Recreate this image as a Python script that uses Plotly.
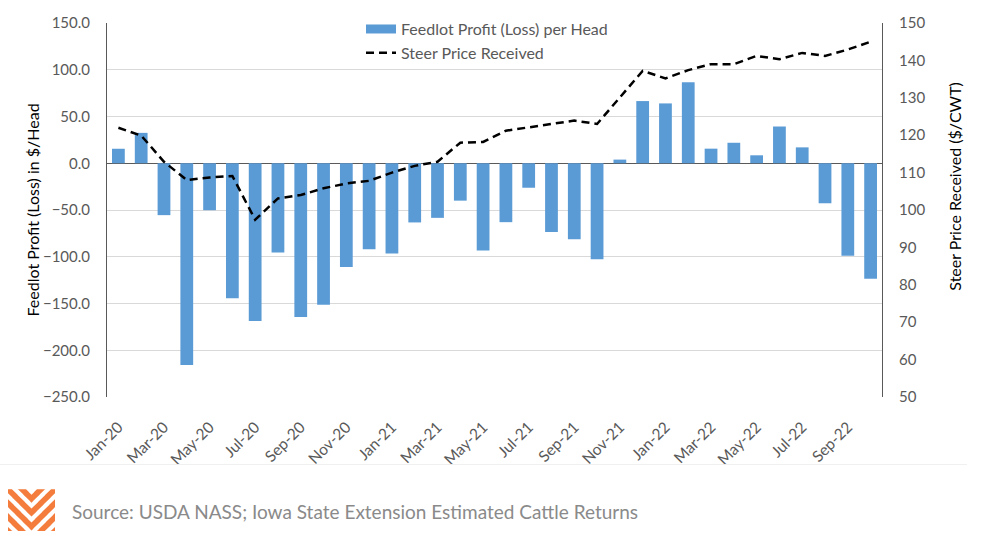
import plotly.graph_objects as go

months = ["Jan-20", "Feb-20", "Mar-20", "Apr-20", "May-20", "Jun-20", "Jul-20", "Aug-20",
          "Sep-20", "Oct-20", "Nov-20", "Dec-20", "Jan-21", "Feb-21", "Mar-21", "Apr-21",
          "May-21", "Jun-21", "Jul-21", "Aug-21", "Sep-21", "Oct-21", "Nov-21", "Dec-21",
          "Jan-22", "Feb-22", "Mar-22", "Apr-22", "May-22", "Jun-22", "Jul-22", "Aug-22",
          "Sep-22", "Oct-22"]

profit_per_head = [15.5, 32.5, -55.5, -215.7, -50.2, -144.3, -168.7, -95.5,
                   -164.5, -151.4, -111.0, -92.0, -96.5, -63.3, -58.4, -40.0,
                   -93.4, -63.0, -26.2, -73.6, -81.3, -102.6, 3.9, 66.5,
                   64.0, 86.6, 15.6, 21.9, 8.5, 39.3, 17.0, -42.8,
                   -99.0, -123.4]

steer_price = [122.0, 119.9, 112.9, 108.0, 108.7, 109.1, 97.4, 103.1,
               104.0, 105.8, 107.1, 107.8, 110.0, 111.8, 112.9, 118.0,
               118.2, 121.2, 122.1, 123.0, 123.9, 123.0, 130.0, 137.2,
               135.2, 137.4, 139.0, 139.0, 141.2, 140.3, 142.0, 141.2,
               142.9, 145.0]

tick_labels = months[::2]

BAR_NAME = "Feedlot Profit (Loss) per Head"
LINE_NAME = "Steer Price Received"

FONT = "Lato"
GRAY = "#595959"
BAR_COLOR = "#5B9BD5"

fig = go.Figure()
fig.add_trace(go.Bar(
    x=months, y=profit_per_head, name=BAR_NAME, showlegend=False,
    marker=dict(color=BAR_COLOR, line=dict(width=0)),
))
# legend entry for the bars drawn as a wide swatch
fig.add_trace(go.Scatter(
    x=[None], y=[None], name=BAR_NAME, mode="lines",
    line=dict(color=BAR_COLOR, width=9), hoverinfo="skip",
))
fig.add_trace(go.Scatter(
    x=months, y=steer_price, name=LINE_NAME, yaxis="y2",
    mode="lines", line=dict(color="black", width=2.5, dash="8px,5px"),
))

L, R, T, B = 107, 102, 20, 140
W, H = 984, 537
pw, ph = W - L - R, H - T - B

def px(xp):
    return (xp - L) / pw

def py(yp):
    return (H - B - yp) / ph

shapes = []
# footer separator
shapes.append(dict(type="line", xref="paper", yref="paper",
                   x0=px(0), x1=px(967), y0=py(465), y1=py(465),
                   line=dict(color="#F0F0F0", width=1)))

# logo: striped chevron
bx0, bx1, by0, by1 = 8, 55, 490, 532
cx = (bx0 + bx1) / 2
period, thick = 14, 8
for k in range(-2, 5):
    a = by0 - 4 + period * k
    xs = [bx0 + (bx1 - bx0) * i / 60 for i in range(61)]
    top, bot = [], []
    for xv in xs:
        f = (cx - bx0) - abs(xv - cx)
        yt = a + f
        yb = a + thick + f
        top.append((xv, min(max(yt, by0), by1)))
        bot.append((xv, min(max(yb, by0), by1)))
    pts = top + bot[::-1]
    path = "M " + " L ".join(f"{px(p[0]):.5f},{py(p[1]):.5f}" for p in pts) + " Z"
    shapes.append(dict(type="path", xref="paper", yref="paper", path=path,
                       fillcolor="#F47C3C", line=dict(width=0)))

fig.update_layout(
    width=W, height=H,
    margin=dict(l=L, r=R, t=T, b=B),
    paper_bgcolor="white", plot_bgcolor="white",
    font=dict(family=FONT, size=14, color=GRAY),
    bargap=0.44,
    showlegend=True,
    legend=dict(x=px(361), y=py(9), xanchor="left", yanchor="top",
                bgcolor="rgba(0,0,0,0)", font=dict(size=16, color=GRAY),
                tracegroupgap=0, itemwidth=30),
    xaxis=dict(type="category", tickvals=tick_labels, ticktext=tick_labels,
               tickangle=-45, showgrid=False, zeroline=False, showline=False,
               ticks="outside", ticklen=14, tickcolor="rgba(0,0,0,0)",
               tickfont=dict(size=15.5, color=GRAY), range=[-0.5, len(months) - 0.5]),
    yaxis=dict(range=[-250, 150], dtick=50, tickformat=".1f",
               showgrid=True, gridcolor="#D9D9D9", gridwidth=1,
               zeroline=True, zerolinecolor=GRAY, zerolinewidth=1,
               showline=True, linecolor=GRAY, linewidth=1,
               ticks="outside", ticklen=13, tickcolor="rgba(0,0,0,0)",
               tickfont=dict(size=15, color=GRAY)),
    yaxis2=dict(range=[50, 150], dtick=10, overlaying="y", side="right",
                showgrid=False, zeroline=False,
                showline=True, linecolor=GRAY, linewidth=1,
                ticks="outside", ticklen=13, tickcolor="rgba(0,0,0,0)",
                tickfont=dict(size=15, color=GRAY)),
    shapes=shapes,
    annotations=[
        dict(text="Feedlot Profit (Loss) in $/Head", textangle=-90,
             xref="paper", yref="paper", x=px(32), y=py(209),
             xanchor="center", yanchor="middle", showarrow=False,
             font=dict(family=FONT, size=16, color="black")),
        dict(text="Steer Price Received ($/CWT)", textangle=-90,
             xref="paper", yref="paper", x=px(955), y=py(185),
             xanchor="center", yanchor="middle", showarrow=False,
             font=dict(family=FONT, size=16, color="black")),
        dict(text="Source: USDA NASS; Iowa State Extension Estimated Cattle Returns",
             xref="paper", yref="paper", x=px(70), y=py(512),
             xanchor="left", yanchor="middle", showarrow=False,
             font=dict(family=FONT, size=19, color="#8A8A8A")),
    ],
)

fig.write_html("out.html", config={"displayModeBar": False},
               post_script="document.body.style.margin='0';")
